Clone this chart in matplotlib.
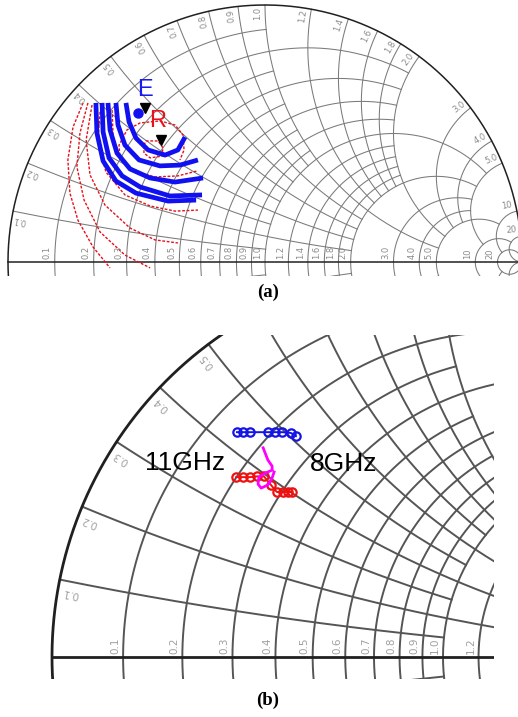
import numpy as np
import matplotlib.pyplot as plt

# Smith chart grid: value and the limit where each line stops
r_vals = [0.1, 0.2, 0.3, 0.4, 0.5, 0.6, 0.7, 0.8, 0.9, 1.0, 1.2, 1.4, 1.6, 1.8, 2.0, 3.0, 4.0, 5.0, 10, 20]
r_xlim = [1, 2, 1, 2, 1, 2, 1, 2, 1, 5, 2, 2, 2, 2, 5, 5, 5, 10, 20, np.inf]
x_vals = [0.1, 0.2, 0.3, 0.4, 0.5, 0.6, 0.7, 0.8, 0.9, 1.0, 1.2, 1.4, 1.6, 1.8, 2.0, 3.0, 4.0, 5.0, 10, 20]
x_rlim = [1, 2, 1, 2, 1, 2, 1, 2, 1, 5, 2, 2, 2, 2, 5, 5, 5, 10, 20, np.inf]
grid_labels = ['0.1', '0.2', '0.3', '0.4', '0.5', '0.6', '0.7', '0.8', '0.9', '1.0',
               '1.2', '1.4', '1.6', '1.8', '2.0', '3.0', '4.0', '5.0', '10', '20']

# panel (a): traces in the reflection-coefficient plane (re, im)
blue_arcs = [
    ([-0.541, -0.529, -0.502, -0.455, -0.389, -0.339, -0.311],
     [0.619, 0.545, 0.482, 0.436, 0.416, 0.436, 0.486]),
    ([-0.580, -0.572, -0.545, -0.490, -0.409, -0.331, -0.261],
     [0.619, 0.533, 0.455, 0.397, 0.374, 0.377, 0.397]),
    ([-0.611, -0.603, -0.576, -0.525, -0.447, -0.350, -0.241],
     [0.619, 0.514, 0.424, 0.362, 0.327, 0.311, 0.327]),
    ([-0.634, -0.630, -0.607, -0.556, -0.486, -0.370, -0.245],
     [0.619, 0.506, 0.405, 0.335, 0.292, 0.257, 0.261]),
    ([-0.658, -0.654, -0.630, -0.580, -0.502, -0.377, -0.268],
     [0.619, 0.502, 0.393, 0.315, 0.268, 0.237, 0.241]),
]
red_curves = [
    ([-0.708, -0.747, -0.767, -0.759, -0.728, -0.669, -0.603],
     [0.619, 0.525, 0.397, 0.268, 0.163, 0.058, -0.023]),
    ([-0.689, -0.720, -0.732, -0.704, -0.642, -0.545, -0.447],
     [0.619, 0.502, 0.370, 0.241, 0.117, 0.027, -0.023]),
    ([-0.673, -0.696, -0.681, -0.623, -0.525, -0.428, -0.339],
     [0.611, 0.475, 0.339, 0.222, 0.132, 0.086, 0.074]),
    ([-0.642, -0.650, -0.619, -0.545, -0.447, -0.350, -0.261],
     [0.584, 0.467, 0.350, 0.261, 0.218, 0.198, 0.202]),
    ([-0.595, -0.591, -0.564, -0.510, -0.428, -0.339, -0.265],
     [0.591, 0.486, 0.409, 0.354, 0.331, 0.335, 0.354]),
    ([-0.564, -0.568, -0.537, -0.486, -0.409, -0.350, -0.319, -0.315, -0.331],
     [0.397, 0.455, 0.514, 0.541, 0.549, 0.533, 0.494, 0.436, 0.397]),
    ([-0.471, -0.463, -0.416, -0.397, -0.401, -0.447, -0.471, -0.471],
     [0.455, 0.471, 0.471, 0.444, 0.412, 0.405, 0.424, 0.455]),
]
e_point = (-0.494, 0.580)
tri_points = ([-0.467, -0.405], [0.599, 0.475])
e_label = (-0.467, 0.669)
r_label = (-0.416, 0.549)

# panel (b): measured points at 8-11 GHz
blue_re = [-0.527, -0.512, -0.494, -0.448, -0.430, -0.412, -0.389, -0.376]
blue_im = [0.575, 0.575, 0.575, 0.575, 0.575, 0.575, 0.573, 0.565]
red_re = [-0.529, -0.512, -0.494, -0.476, -0.458, -0.440, -0.425, -0.409, -0.396, -0.386]
red_im = [0.460, 0.460, 0.460, 0.462, 0.462, 0.440, 0.422, 0.422, 0.422, 0.422]
mag_re = [-0.460, -0.448, -0.437, -0.437, -0.453, -0.471, -0.473, -0.465, -0.448, -0.437, -0.432]
mag_im = [0.535, 0.504, 0.488, 0.478, 0.471, 0.460, 0.442, 0.432, 0.440, 0.458, 0.473]
freq_text = [('11GHz', -0.762, 0.496), ('8GHz', -0.340, 0.493)]


def gamma(z):
    return (z - 1) / (z + 1)


def smith_grid(ax, lw, col, edge_lw, lab_size, lab_col, px):
    x0, x1 = ax.get_xlim()
    y0, y1 = ax.get_ylim()

    def inside(x, y):
        return x0 + 0.02 < x < x1 - 0.02 and y0 < y < y1 - 0.02

    for r, xl in zip(r_vals, r_xlim):
        c, rho = r / (1 + r), 1 / (1 + r)
        g = 1.0 if np.isinf(xl) else gamma(r + 1j * xl)
        a = np.angle(g - c)
        t = np.linspace(a, 2 * np.pi - a, 500)
        ax.plot(c + rho * np.cos(t), rho * np.sin(t), color=col, lw=lw)
    for x, rl in zip(x_vals, x_rlim):
        cen = 1 + 1j / x
        g1 = 1.0 if np.isinf(rl) else gamma(rl + 1j * x)
        a0 = np.angle(gamma(1j * x) - cen) % (2 * np.pi)
        a1 = np.angle(g1 - cen) % (2 * np.pi)
        if a1 < a0:
            a1 += 2 * np.pi
        t = np.linspace(a0, a1, 500)
        xs = 1 + np.cos(t) / x
        ys = 1 / x + np.sin(t) / x
        ax.plot(xs, ys, color=col, lw=lw)
        ax.plot(xs, -ys, color=col, lw=lw)
    t = np.linspace(0, 2 * np.pi, 800)
    ax.plot(np.cos(t), np.sin(t), color='#202020', lw=edge_lw)
    ax.plot([-1, 1], [0, 0], color='#202020', lw=edge_lw)
    for r, lab in zip(r_vals, grid_labels):
        lx = (r - 1) / (r + 1) - 3 * px
        if inside(lx, 0.05):
            ax.text(lx, 3 * px, lab, rotation=90, ha='right', va='bottom',
                    fontsize=lab_size, color=lab_col, clip_on=True)
    for x, lab in zip(x_vals, grid_labels):
        th = np.angle(gamma(1j * x)) + np.radians(1.7)
        lx, ly = 0.967 * np.cos(th), 0.967 * np.sin(th)
        if inside(lx, ly):
            ax.text(lx, ly, lab, rotation=np.degrees(th) - 1.7,
                    rotation_mode='anchor', ha='center', va='center',
                    fontsize=lab_size, color=lab_col, clip_on=True)


def place(fig, box, center, radius):
    W, H = 518, 717
    l, t, r, b = box
    ax = fig.add_axes([l / W, 1 - b / H, (r - l) / W, (b - t) / H])
    cx, cy = center
    ax.set_xlim((l - cx) / radius, (r - cx) / radius)
    ax.set_ylim((cy - b) / radius, (cy - t) / radius)
    ax.axis('off')
    return ax


fig = plt.figure(figsize=(5.18, 7.17), dpi=100)

# (a)
ax = place(fig, (3, 2, 518, 276), (265, 262), 257)
smith_grid(ax, 0.75, '#7a7a7a', 1.1, 6, '#8a8a8a', 1 / 257)
for xs, ys in red_curves:
    ax.plot(xs, ys, color='#e8101a', lw=1.0, ls=(0, (2.0, 1.2)))
for xs, ys in blue_arcs:
    ax.plot(xs, ys, color='#1010f0', lw=3.4, solid_capstyle='butt')
ax.plot(*e_point, 'o', color='#1010f0', ms=6.5)
ax.plot(*tri_points, 'v', color='black', ms=7.5, ls='none')
ax.text(*e_label, 'E', color='#1a1af0', fontsize=17, ha='center', va='center', family='Liberation Sans')
ax.text(*r_label, 'R', color='#e8101a', fontsize=17, ha='center', va='center', family='Liberation Sans')

# (b)
ax = place(fig, (50, 335, 494, 679), (443, 657), 391)
smith_grid(ax, 1.4, '#555555', 2.0, 7.5, '#a0a0a0', 1 / 391)
ax.plot(blue_re, blue_im, '-o', color='#1414e6', ms=6, mfc='none', mew=1.6, lw=1.4)
ax.plot(red_re, red_im, '-o', color='#ee1111', ms=6, mfc='none', mew=1.6, lw=1.4)
ax.plot(mag_re, mag_im, '-', color='#ff00ff', lw=2.0)
for s, x, y in freq_text:
    ax.text(x, y, s, fontsize=19, ha='left', va='center', family='Liberation Sans')

fig.text(268 / 518, 1 - 292 / 717, '(a)', fontsize=13.5, fontweight='bold', family='Liberation Serif',
         ha='center', va='center')
fig.text(268 / 518, 1 - 700 / 717, '(b)', fontsize=13.5, fontweight='bold', family='Liberation Serif',
         ha='center', va='center')

fig.savefig('out.png', dpi=100)
